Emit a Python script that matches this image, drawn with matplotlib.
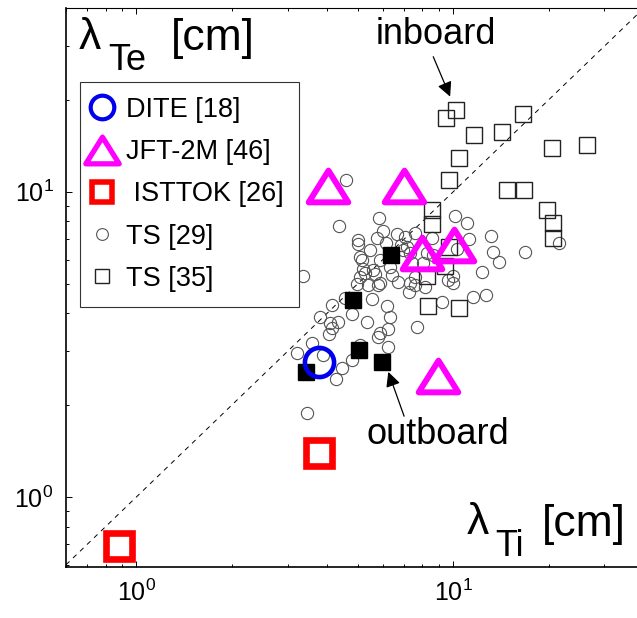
import matplotlib
matplotlib.use("Agg")
import matplotlib.pyplot as plt
from matplotlib.lines import Line2D
from matplotlib.markers import MarkerStyle
from matplotlib.path import Path

plt.rcParams['font.family'] = ['Liberation Sans', 'DejaVu Sans']
plt.rcParams['mathtext.fontset'] = 'custom'
plt.rcParams['mathtext.rm'] = 'Liberation Sans'

# lambda_Ti (x) and lambda_Te (y) in cm
dite_x = [3.78]
dite_y = [2.77]

jft_x = [4.03, 7.0, 7.99, 10.07, 8.97]
jft_y = [10.46, 10.46, 6.31, 6.7, 2.49]

isttok_x = [0.884, 3.78]
isttok_y = [0.69, 1.39]

ts29_x = [4.60, 5.84, 4.37, 10.14, 11.07, 5.01, 5.01, 5.76, 6.01, 6.66,
          7.06, 7.59, 8.59, 11.23, 13.18, 13.37, 13.97, 16.87, 21.6, 3.36,
          5.09, 5.16, 5.89, 5.59, 5.20, 6.33, 7.16, 7.32, 6.95, 8.28,
          8.65, 10.29, 8.04, 7.42, 12.35, 10.0, 10.0, 7.59, 7.32, 9.23,
          11.56, 12.71, 7.27, 7.59, 6.19, 4.15, 5.55, 5.39, 5.89, 4.98,
          5.28, 5.67, 5.09, 6.33, 6.24, 4.80, 5.35, 3.80, 4.09, 4.15,
          4.34, 4.06, 5.89, 5.80, 5.09, 6.24, 3.22, 3.59, 3.89, 4.80,
          4.47, 4.27, 3.46, 7.70, 6.86, 8.16, 9.64, 6.15, 6.42, 6.71,
          5.47, 4.57, 5.80]
ts29_y = [10.95, 8.22, 7.74, 8.34, 7.91, 6.96, 6.75, 7.06, 7.45, 7.28,
          7.12, 7.34, 7.06, 7.01, 7.17, 6.36, 5.90, 6.36, 6.80, 5.30,
          6.12, 5.98, 5.98, 5.55, 5.59, 5.68, 6.61, 6.31, 6.45, 6.31,
          6.21, 6.50, 5.85, 5.85, 5.47, 5.30, 5.03, 5.26, 5.03, 4.36,
          4.53, 4.59, 4.70, 4.96, 4.23, 4.26, 4.46, 4.96, 5.03, 4.99,
          5.42, 5.38, 5.26, 3.89, 3.55, 3.98, 3.75, 3.89, 3.72, 3.58,
          3.75, 3.42, 3.45, 3.35, 3.15, 3.10, 2.96, 3.20, 2.92, 2.81,
          2.65, 2.44, 1.88, 3.61, 6.70, 4.88, 5.15, 6.80, 5.35, 5.07,
          6.45, 4.49, 4.96]

# TS [35]: inboard (open) and outboard (filled)
ts35_in_x = [10.2, 9.5, 16.6, 11.6, 14.3, 20.5, 26.5, 10.45, 9.7, 14.8,
             16.75, 19.8, 20.7, 20.7, 8.6, 8.6, 9.7, 9.44, 8.28, 8.34, 10.45]
ts35_in_y = [18.6, 17.5, 18.0, 15.3, 15.7, 13.9, 14.2, 12.9, 10.95, 10.15,
             10.15, 8.73, 7.91, 7.06, 8.73, 7.85, 6.61, 5.72, 5.30, 4.23, 4.17]
ts35_out_x = [3.44, 4.84, 5.05, 5.97, 6.37]
ts35_out_y = [2.57, 4.42, 3.03, 2.77, 6.21]

labels = ['DITE [18]', 'JFT-2M [46]', ' ISTTOK [26]', 'TS [29]', 'TS [35]']

W, H = 637, 618
fig = plt.figure(figsize=(W / 100, H / 100), dpi=100)
ax = fig.add_axes([66 / W, 51 / H, 578 / W, 559 / H])
ax.set_xscale('log')
ax.set_yscale('log')
ax.set_xlim(0.6, 40)
ax.set_ylim(0.59, 40)

tri = MarkerStyle(Path([(-1, -0.8), (1, -0.8), (0, 0.8), (-1, -0.8)],
                       [Path.MOVETO, Path.LINETO, Path.LINETO, Path.CLOSEPOLY]),
                  joinstyle='miter')

ax.plot([0.6, 40], [0.6, 40], color='k', lw=0.7, ls=(0, (5, 5)), zorder=1)

ax.plot(ts29_x, ts29_y, 'o', ms=8.8, mfc='none', mec='#555555', mew=0.8, zorder=2)
ax.plot(ts35_in_x, ts35_in_y, 's', ms=11, mfc='none', mec='#222222', mew=1.0, zorder=3)
ax.plot(ts35_out_x, ts35_out_y, 's', ms=11, mfc='k', mec='k', mew=1.0, zorder=3)
ax.plot(jft_x, jft_y, ls='none', marker=tri, ms=28.5, mfc='none', mec='#ff00ff',
        mew=4.3, zorder=4)
ax.plot(dite_x, dite_y, 'o', ms=21, mfc='none', mec='#0000ee', mew=3.3, zorder=5)
ax.plot(isttok_x, isttok_y, 's', ms=18.8, mfc='none', mec='#ff0000', mew=4.8,
        zorder=5)

for s in ['top', 'right']:
    ax.spines[s].set_linewidth(0.8)
for s in ['left', 'bottom']:
    ax.spines[s].set_linewidth(1.2)
ax.tick_params(which='both', direction='in', top=True, right=True, width=0.7)
ax.tick_params(which='major', length=4.5, labelsize=18)
ax.tick_params(which='minor', length=2.5)
ax.tick_params(axis='x', which='major', pad=9)
ax.tick_params(axis='y', which='major', pad=9)

# arrows to the inboard / outboard groups
ax.annotate('', xy=(9.78, 20.5), xytext=(8.65, 27.7),
            arrowprops=dict(arrowstyle='-|>', color='k', lw=0.9, mutation_scale=22,
                            shrinkA=0, shrinkB=0))
ax.text(8.84, 32.7, 'inboard', fontsize=26, ha='center', va='center')
ax.annotate('', xy=(6.24, 2.57), xytext=(7.0, 1.84),
            arrowprops=dict(arrowstyle='-|>', color='k', lw=0.9, mutation_scale=22,
                            shrinkA=0, shrinkB=0))
ax.text(8.97, 1.6, 'outboard', fontsize=26, ha='center', va='center')

# axis titles drawn inside the frame
def fx(px):
    return px / W

def fy(py):
    return 1 - py / H

fig.text(fx(79), fy(49), 'λ', fontsize=32, va='baseline')
fig.text(fx(108), fy(70), 'Te', fontsize=26, va='baseline')
fig.text(fx(171), fy(50), '[cm]', fontsize=32, va='baseline')

fig.text(fx(467), fy(534), 'λ', fontsize=32, va='baseline')
fig.text(fx(495), fy(556), 'Ti', fontsize=26, va='baseline')
fig.text(fx(542), fy(536), '[cm]', fontsize=32, va='baseline')

handles = [
    Line2D([], [], ls='none', marker='o', ms=17, mfc='none', mec='#0000ee', mew=3),
    Line2D([], [], ls='none', marker=tri, ms=24, mfc='none', mec='#ff00ff', mew=3.8),
    Line2D([], [], ls='none', marker='s', ms=15, mfc='none', mec='#ff0000', mew=4),
    Line2D([], [], ls='none', marker='o', ms=8.5, mfc='none', mec='#555555', mew=0.8),
    Line2D([], [], ls='none', marker='s', ms=10, mfc='none', mec='#222222', mew=1.0),
]
leg = ax.legend(handles, labels, loc='upper left', bbox_to_anchor=(fx(80), fy(82)),
                bbox_transform=fig.transFigure, fontsize=19.5, frameon=True,
                fancybox=False, edgecolor='#333333', framealpha=1,
                handlelength=0.55, handletextpad=0.6, labelspacing=0.6,
                borderpad=0.55, borderaxespad=0)
leg.get_frame().set_linewidth(0.8)

fig.savefig('out.png', dpi=100)
